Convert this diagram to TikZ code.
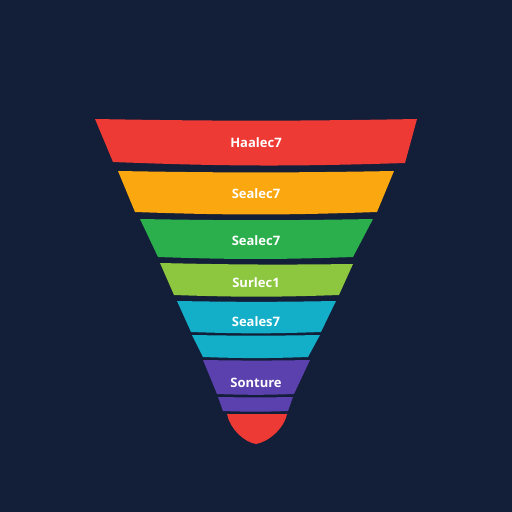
\documentclass[tikz,border=0pt]{standalone}
\usepackage{fontspec}
\setsansfont{Open Sans}
\usepackage{tikz}
\definecolor{night}{HTML}{131E38}
\definecolor{tomato}{HTML}{EE3A35}
\definecolor{amber}{HTML}{FBA70F}
\definecolor{leaf}{HTML}{2BAE4C}
\definecolor{lime}{HTML}{8DC63F}
\definecolor{lagoon}{HTML}{13AFC9}
\definecolor{iris}{HTML}{5B41AE}
\tikzset{bandtext/.style={text=white,font=\sffamily\bfseries\fontsize{13}{13}\selectfont}}

\begin{document}
\begin{tikzpicture}[x=1pt,y=-1pt]
            \fill[night] (0,0) rectangle (512,512);
            \fill[tomato] (95,119) to[bend right=1] (417,119) -- (405,163) to[bend left=2] (113,162) -- cycle;
            \fill[amber] (118,171) to[bend right=1] (394,171) -- (377,212) to[bend left=2] (135,212) -- cycle;
            \fill[leaf] (140,219) to[bend right=1] (373,219) -- (353,257) to[bend left=2] (158,257) -- cycle;
            \fill[lime] (160,263) to[bend right=1] (353,264) -- (339,295) to[bend left=2] (174,295) -- cycle;
            \fill[lagoon] (177,301) to[bend right=1] (336,301) -- (321,332) to[bend left=2] (191,332) -- cycle;
            \fill[lagoon] (192,335) to[bend right=1] (320,335) -- (308,357) to[bend left=2] (203,357) -- cycle;
            \fill[iris] (203,360) to[bend right=1] (310,360) -- (294,394) to[bend left=2] (217,394) -- cycle;
            \fill[iris] (218,397) to[bend right=1] (293,397) -- (288,411) to[bend left=2] (223,411) -- cycle;
            \fill[tomato] (227,414) -- (287,414) .. controls (284,429) and (268,442) .. (256,444)
                .. controls (244,442) and (230,429) .. (227,414) -- cycle;
            \node[bandtext] (t1) at (256,143) {Haalec7};
            \node[bandtext] (t2) at (256,194) {Sealec7};
            \node[bandtext] (t3) at (256,241) {Sealec7};
            \node[bandtext] (t4) at (256,283) {Surlec1};
            \node[bandtext] (t5) at (256,322) {Seales7};
            \node[bandtext] (t6) at (256,383) {Sonture};
        \end{tikzpicture}
\end{document}
